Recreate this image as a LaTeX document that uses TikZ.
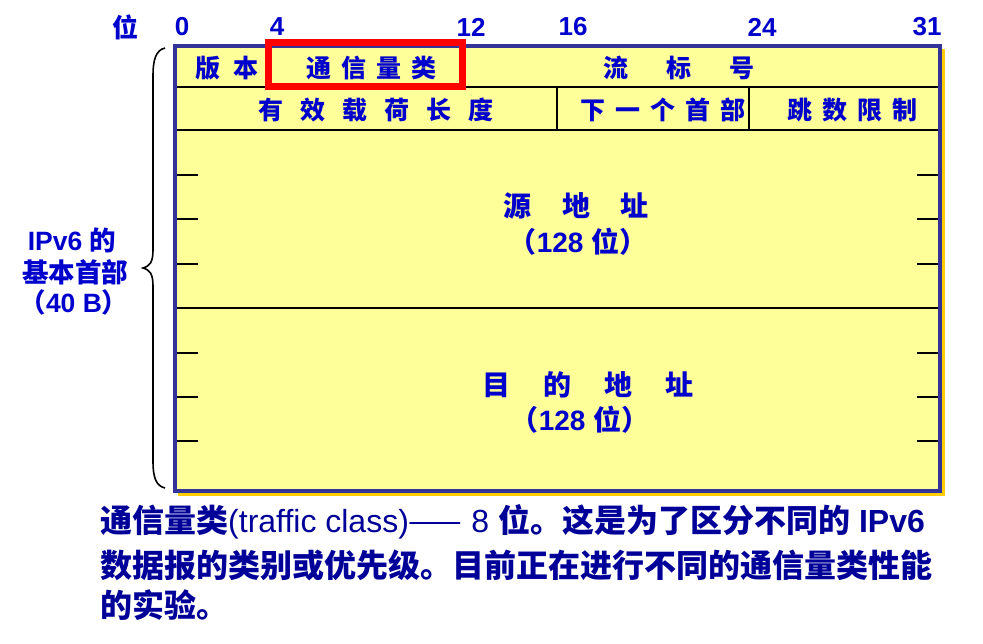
\documentclass[tikz,border=0pt]{standalone}
\usepackage{fontspec}
\setmainfont{Liberation Sans}
\newfontfamily\cjk{Noto Sans CJK SC}
\definecolor{hblue}{HTML}{0000CC}
\definecolor{nblue}{HTML}{000099}
\definecolor{boxfill}{HTML}{FFFF99}
\definecolor{boxline}{HTML}{333399}
\definecolor{shadowgold}{HTML}{FFCC00}
\definecolor{redbox}{HTML}{FF0000}
\newcommand\gp[1]{\hspace{#1pt}}
\tikzset{
  hdr/.style={text=hblue, inner sep=0, font=\bfseries\fontsize{26}{26}\selectfont},
  fld/.style={text=hblue, inner sep=0, font=\cjk\bfseries\fontsize{25}{25}\selectfont},
  addr/.style={text=hblue, inner sep=0, font=\bfseries\fontsize{28}{28}\selectfont},
  side/.style={text=hblue, inner sep=0, font=\bfseries\fontsize{26.5}{26.5}\selectfont},
  note/.style={text=nblue, inner sep=0, anchor=west, font=\fontsize{32}{32}\selectfont},
  rule/.style={black, line width=1.1pt},
}
\begin{document}
\begin{tikzpicture}[x=1pt,y=-1pt]
\useasboundingbox (0,0) rectangle (983,643);
% box with shadow
\fill[shadowgold] (178,49) rectangle (945,496);
\fill[boxfill] (175,46) rectangle (940,491);
% row lines
\draw[rule] (175,87) -- (940,87);
\draw[rule] (175,130) -- (940,130);
\draw[rule] (175,308) -- (940,308);
\draw[rule] (557,87) -- (557,130);
\draw[rule] (749,87) -- (749,130);
% ticks
\foreach \yy in {175,219,264,353,397,441}{
  \draw[rule] (175,\yy) -- (198,\yy);
  \draw[rule] (917,\yy) -- (942,\yy);
}
\draw[boxline, line width=3.5pt] (175,46) rectangle (940,491);
% red highlight
\draw[redbox, line width=7pt] (268.5,42.5) rectangle (462.5,86.5);
% bit labels
\node[hdr] (bit) at (125,27) {\cjk 位};
\node[hdr] (b0) at (182,27) {0};
\node[hdr] (b4) at (277,27) {4};
\node[hdr] (b12) at (471,27) {12};
\node[hdr] (b16) at (573,27) {16};
\node[hdr] (b24) at (762,27) {24};
\node[hdr] (b31) at (927,27) {31};
% fields row 1
\node[fld] (ver) at (227,68) {版\gp{13}本};
\node[fld] (tc) at (371,68) {通\gp{10}信\gp{10}量\gp{10}类};
\node[fld] (flow) at (679,68) {流\gp{38}标\gp{38}号};
% fields row 2
\node[fld] (plen) at (376,110) {有\gp{17}效\gp{17}载\gp{17}荷\gp{17}长\gp{17}度};
\node[fld] (nh) at (663,110) {下\gp{10}一\gp{10}个\gp{10}首\gp{10}部};
\node[fld] (hop) at (852,110) {跳\gp{10}数\gp{10}限\gp{10}制};
% addresses
\node[addr] (src) at (576,206) {\cjk 源\gp{31}地\gp{31}址};
\node[addr] (srcb) at (578,242) {{\cjk （}128 {\cjk 位）}};
\node[addr] (dst) at (588,385) {\cjk 目\gp{33}的\gp{33}地\gp{33}址};
\node[addr] (dstb) at (580,420) {{\cjk （}128 {\cjk 位）}};
% brace
\draw[black, line width=1.6pt] (165,48) .. controls (156,50) and (153,60) .. (153,75) -- (153,250)
  .. controls (153,262) and (150,266) .. (143,268)
  .. controls (150,270) and (153,274) .. (153,286) -- (153,462)
  .. controls (153,477) and (156,486) .. (165,488);
% side label
\node[side] (s1) at (72,240) {IPv6 {\cjk 的}};
\node[side] (s2) at (75,272) {\cjk 基本首部};
\node[side] (s3) at (74,302) {{\cjk （}40 B{\cjk ）}};
% note
\node[note] (n1) at (100,522) {{\cjk\bfseries 通信量类}(traffic class){\cjk ——} 8 {\cjk\bfseries 位。这是为了区分不同的} \textbf{IPv6}};
\node[note] (n2) at (100,565) {\cjk\bfseries 数据报的类别或优先级。目前正在进行不同的通信量类性能};
\node[note] (n3) at (100,605) {\cjk\bfseries 的实验。};
\end{tikzpicture}
\end{document}
